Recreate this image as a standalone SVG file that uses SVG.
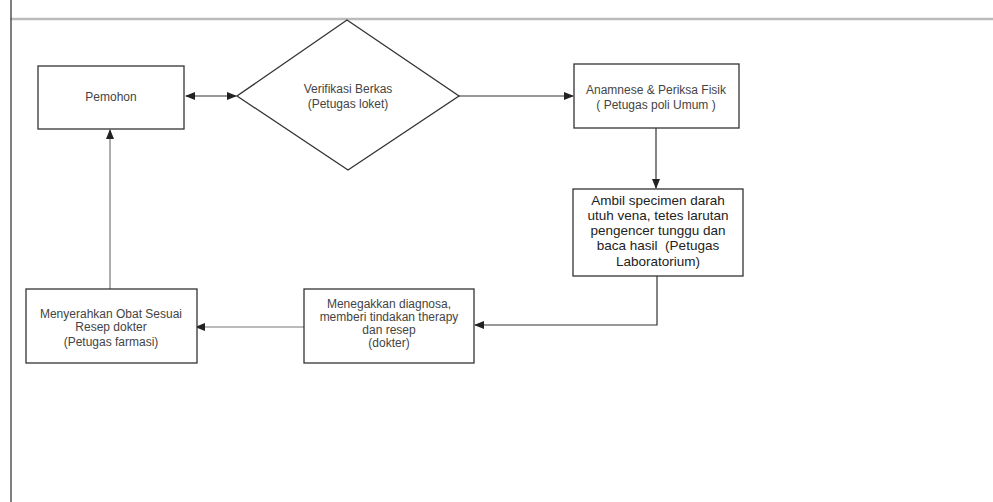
<svg xmlns="http://www.w3.org/2000/svg" width="993" height="502" viewBox="0 0 993 502">
<defs>
<marker id="ah" markerWidth="10" markerHeight="8" refX="9" refY="4" orient="auto" markerUnits="userSpaceOnUse">
<path d="M0,0 L10,4 L0,8 Z" fill="#222"/>
</marker>
<marker id="ahs" markerWidth="10" markerHeight="8" refX="1" refY="4" orient="auto" markerUnits="userSpaceOnUse">
<path d="M10,0 L0,4 L10,8 Z" fill="#222"/>
</marker>
<style>
.box{fill:#fff;stroke:#333;stroke-width:1.3}
.t{font-family:"Liberation Sans",Arial,sans-serif;font-size:12px;fill:#444;text-anchor:middle}
.tl{font-family:"Liberation Sans",Arial,sans-serif;font-size:13.5px;fill:#222;text-anchor:middle}
.c{fill:none;stroke:#333;stroke-width:1.2}
.cg{fill:none;stroke:#777;stroke-width:1.2}
</style>
</defs>
<rect width="993" height="502" fill="#fff"/>
<line x1="10" y1="19" x2="993" y2="19" stroke="#bbb" stroke-width="2.5"/>
<line x1="11" y1="0" x2="11" y2="502" stroke="#555" stroke-width="1.5"/>

<g id="connectors">
<line class="c" x1="186" y1="96" x2="236" y2="96" marker-start="url(#ahs)" marker-end="url(#ah)"/>
<line class="c" x1="459" y1="96" x2="573" y2="96" marker-end="url(#ah)"/>
<line class="c" x1="656" y1="128" x2="656" y2="188" marker-end="url(#ah)"/>
<polyline class="c" points="657,276 657,325 475,325" marker-end="url(#ah)"/>
<line class="cg" x1="304" y1="327" x2="196" y2="327" marker-end="url(#ah)"/>
<line class="cg" x1="110" y1="289" x2="110" y2="130" marker-end="url(#ah)"/>
</g>

<g id="pemohon">
<rect class="box" x="38" y="66" width="146" height="63"/>
<text class="t" x="111" y="101">Pemohon</text>
</g>

<g id="verifikasi">
<polygon class="box" points="347,20 459,96 348,170 237,96"/>
<text class="t" x="348" y="93">Verifikasi Berkas</text>
<text class="t" x="348" y="108">(Petugas loket)</text>
</g>

<g id="anamnese">
<rect class="box" x="574" y="64" width="165" height="64"/>
<text class="t" x="656" y="94">Anamnese &amp; Periksa Fisik</text>
<text class="t" x="656" y="109">( Petugas poli Umum )</text>
</g>

<g id="lab">
<rect class="box" x="573" y="189" width="170" height="87"/>
<text class="tl" x="658" y="205">Ambil specimen darah</text>
<text class="tl" x="658" y="220">utuh vena, tetes larutan</text>
<text class="tl" x="658" y="235">pengencer tunggu dan</text>
<text class="tl" x="658" y="250" xml:space="preserve">baca hasil  (Petugas</text>
<text class="tl" x="658" y="266">Laboratorium)</text>
</g>

<g id="diagnosa">
<rect class="box" x="304" y="289" width="170" height="74"/>
<text class="t" x="389" y="308">Menegakkan diagnosa,</text>
<text class="t" x="389" y="321">memberi tindakan therapy</text>
<text class="t" x="389" y="334">dan resep</text>
<text class="t" x="389" y="347">(dokter)</text>
</g>

<g id="farmasi">
<rect class="box" x="26" y="289" width="171" height="74"/>
<text class="t" x="111" y="318">Menyerahkan Obat Sesuai</text>
<text class="t" x="111" y="331">Resep dokter</text>
<text class="t" x="111" y="346">(Petugas farmasi)</text>
</g>
</svg>
